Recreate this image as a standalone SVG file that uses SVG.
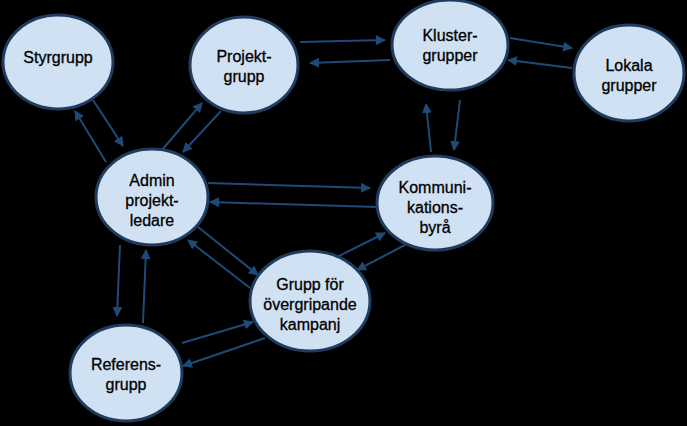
<svg xmlns="http://www.w3.org/2000/svg" width="687" height="426" viewBox="0 0 687 426">
<style>
ellipse{fill:#d0e1f3;stroke:#1f3b5e;stroke-width:3}
text{font-family:"Liberation Sans",Arial,sans-serif;font-size:16px;fill:#000;text-anchor:middle;stroke:#000;stroke-width:0.3}
.c line{stroke:#1f4a78;stroke-width:2;marker-end:url(#a)}
</style>
<defs><marker id="a" viewBox="0 0 10 10" refX="9" refY="5" markerWidth="5" markerHeight="5" orient="auto" markerUnits="strokeWidth"><path d="M0,0L10,5L0,10z" fill="#1f4a78"/></marker></defs>
<rect width="687" height="426" fill="#000"/>
<g class="c">
<line x1="93" y1="100" x2="123" y2="146"/>
<line x1="106" y1="162" x2="75" y2="111"/>
<line x1="162" y1="150" x2="202" y2="103"/>
<line x1="221" y1="111" x2="183" y2="152"/>
<line x1="300" y1="42" x2="385" y2="40"/>
<line x1="390" y1="60" x2="310" y2="63"/>
<line x1="510" y1="38" x2="572" y2="48"/>
<line x1="572" y1="68" x2="508" y2="60"/>
<line x1="460" y1="100" x2="454" y2="150"/>
<line x1="431" y1="152" x2="426" y2="104"/>
<line x1="208" y1="183" x2="370" y2="188"/>
<line x1="377" y1="207" x2="210" y2="202"/>
<line x1="198" y1="227" x2="258" y2="275"/>
<line x1="250" y1="288" x2="188" y2="240"/>
<line x1="335" y1="258" x2="385" y2="233"/>
<line x1="405" y1="245" x2="357" y2="270"/>
<line x1="120" y1="245" x2="117" y2="316"/>
<line x1="143" y1="323" x2="146" y2="250"/>
<line x1="182" y1="343" x2="253" y2="322"/>
<line x1="265" y1="338" x2="183" y2="366"/>
</g>
<g id="styrgrupp"><ellipse cx="58" cy="62" rx="55" ry="47"/><text x="58" y="63">Styrgrupp</text></g>
<g id="projektgrupp"><ellipse cx="244" cy="65" rx="54" ry="48"/><text x="244" y="62">Projekt-</text><text x="244" y="82">grupp</text></g>
<g id="klustergrupper"><ellipse cx="450" cy="45" rx="58" ry="45"/><text x="450" y="41">Kluster-</text><text x="450" y="61">grupper</text></g>
<g id="lokalagrupper"><ellipse cx="629" cy="73" rx="55" ry="48"/><text x="629" y="71">Lokala</text><text x="629" y="91">grupper</text></g>
<g id="admin"><ellipse cx="152" cy="197" rx="56" ry="48"/><text x="152" y="186">Admin</text><text x="152" y="206">projekt-</text><text x="152" y="226">ledare</text></g>
<g id="kommunikationsbyra"><ellipse cx="435" cy="203" rx="58" ry="47"/><text x="435" y="193">Kommuni-</text><text x="435" y="213">kations-</text><text x="435" y="233">byrå</text></g>
<g id="grupp"><ellipse cx="310" cy="301" rx="60" ry="50"/><text x="310" y="290">Grupp för</text><text x="310" y="310">övergripande</text><text x="310" y="330">kampanj</text></g>
<g id="referensgrupp"><ellipse cx="126" cy="373" rx="56" ry="48"/><text x="126" y="370">Referens-</text><text x="126" y="390">grupp</text></g>
</svg>
